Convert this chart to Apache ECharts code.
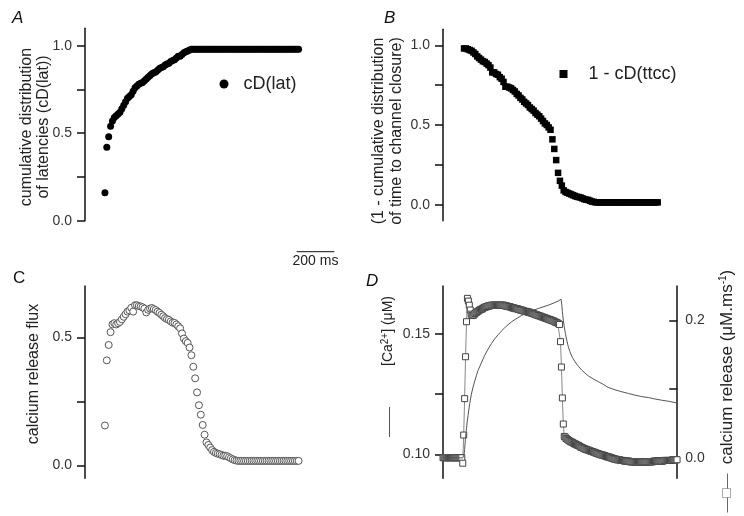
<!DOCTYPE html>
<html><head><meta charset="utf-8">
<script src="https://cdn.jsdelivr.net/npm/echarts@6/dist/echarts.min.js"></script>
<style>html,body{margin:0;padding:0;background:#fff}#c{width:744px;height:516px}</style>
</head><body><div id="c"></div>
<script>
// ---------- DATA ----------
// Panels A-C: one sample every 10 ms, starting at t = 0 ms
const stepABC = 10;
// A: cumulative distribution of latencies
const cdLat = [
 0.16,0.42,0.48,0.54,0.57,0.59,0.60,0.61,0.62,0.64,
 0.66,0.68,0.70,0.71,0.72,0.74,0.76,0.77,0.78,0.785,
 0.79,0.80,0.81,0.82,0.83,0.84,0.845,0.85,0.86,0.87,
 0.875,0.88,0.89,0.895,0.90,0.91,0.915,0.92,0.93,0.94,
 0.94,0.95,0.96,0.965,0.97,0.975,0.98,0.98,0.98,0.98,
 0.98,0.98,0.98,0.98,0.98,0.98,0.98,0.98,0.98,0.98,
 0.98,0.98,0.98,0.98,0.98,0.98,0.98,0.98,0.98,0.98,
 0.98,0.98,0.98,0.98,0.98,0.98,0.98,0.98,0.98,0.98,
 0.98,0.98,0.98,0.98,0.98,0.98,0.98,0.98,0.98,0.98,
 0.98,0.98,0.98,0.98,0.98,0.98,0.98,0.98,0.98,0.98,
 0.98,0.98,0.98,0.98
];
// B: 1 - cumulative distribution of time to channel closure
const oneMinusTtcc = [
 0.98,0.98,0.975,0.97,0.965,0.955,0.945,0.93,0.92,0.91,
 0.90,0.895,0.885,0.875,0.86,0.83,0.83,0.82,0.815,0.80,
 0.79,0.77,0.74,0.74,0.735,0.73,0.72,0.71,0.695,0.685,
 0.67,0.66,0.645,0.635,0.625,0.61,0.60,0.59,0.575,0.565,
 0.555,0.54,0.525,0.51,0.50,0.485,0.47,0.41,0.35,0.28,
 0.20,0.15,0.12,0.09,0.08,0.075,0.07,0.065,0.06,0.055,
 0.05,0.048,0.045,0.04,0.035,0.032,0.03,0.025,0.02,0.018,
 0.015,0.015,0.015,0.015,0.015,0.015,0.015,0.015,0.015,0.015,
 0.015,0.015,0.015,0.015,0.015,0.015,0.015,0.015,0.015,0.015,
 0.015,0.015,0.015,0.015,0.015,0.015,0.015,0.015,0.015,0.015,
 0.015,0.015,0.015,0.015
];
// C: calcium release flux
const releaseFlux = [
 0.156,0.41,0.47,0.52,0.55,0.555,0.55,0.555,0.56,0.57,
 0.58,0.59,0.60,0.605,0.615,0.60,0.625,0.625,0.622,0.62,
 0.617,0.612,0.597,0.607,0.612,0.614,0.61,0.606,0.60,0.595,
 0.588,0.582,0.575,0.571,0.568,0.562,0.557,0.556,0.55,0.543,
 0.535,0.515,0.495,0.485,0.478,0.46,0.43,0.385,0.34,0.285,
 0.235,0.198,0.158,0.12,0.09,0.08,0.07,0.06,0.053,0.049,
 0.046,0.044,0.041,0.038,0.038,0.036,0.032,0.028,0.024,0.021,
 0.019,0.018,0.018,0.018,0.018,0.018,0.018,0.018,0.018,0.018,
 0.018,0.018,0.018,0.018,0.018,0.018,0.018,0.018,0.018,0.018,
 0.018,0.018,0.018,0.018,0.018,0.018,0.018,0.018,0.018,0.018,
 0.018,0.018,0.018,0.018
];
// D: calcium release (uM/ms), one sample every 5 ms starting at t = -110 ms
const stepD = 5, startD = -110;
const caRelease = [
 0,0,0,0,0,0,0,0,0,0,
 0,0,0,0,0,0,0,0,0,0,
 0,-0.008,0.033,0.086,0.147,0.198,0.232,0.228,0.222,0.215,
 0.209,0.207,0.207,0.208,0.21,0.211,0.212,0.213,0.214,0.215,
 0.216,0.216,0.217,0.218,0.219,0.219,0.22,0.22,0.221,0.221,
 0.221,0.222,0.222,0.222,0.222,0.222,0.222,0.222,0.222,0.222,
 0.222,0.222,0.222,0.222,0.222,0.222,0.221,0.221,0.221,0.22,
 0.22,0.22,0.219,0.219,0.218,0.218,0.218,0.217,0.217,0.217,
 0.216,0.216,0.215,0.215,0.215,0.214,0.214,0.213,0.213,0.213,
 0.212,0.212,0.212,0.211,0.211,0.21,0.21,0.209,0.209,0.208,
 0.208,0.207,0.207,0.206,0.206,0.205,0.205,0.204,0.204,0.203,
 0.203,0.202,0.202,0.201,0.201,0.2,0.2,0.199,0.199,0.198,
 0.197,0.197,0.196,0.195,0.194,0.169,0.132,0.087,0.049,0.031,
 0.03,0.028,0.027,0.026,0.025,0.024,0.023,0.023,0.022,0.021,
 0.02,0.02,0.019,0.018,0.018,0.017,0.016,0.015,0.015,0.014,
 0.013,0.013,0.012,0.012,0.011,0.011,0.01,0.01,0.009,0.009,
 0.008,0.008,0.007,0.007,0.006,0.006,0.005,0.005,0.004,0.004,
 0.004,0.003,0.003,0.002,0.002,0.001,0.001,0.001,0,0,
 -0.001,-0.001,-0.002,-0.002,-0.002,-0.003,-0.003,-0.003,-0.003,-0.004,
 -0.004,-0.004,-0.004,-0.005,-0.005,-0.005,-0.005,-0.005,-0.005,-0.006,
 -0.006,-0.006,-0.006,-0.006,-0.006,-0.006,-0.006,-0.006,-0.006,-0.006,
 -0.006,-0.006,-0.006,-0.006,-0.006,-0.006,-0.006,-0.006,-0.006,-0.006,
 -0.006,-0.006,-0.006,-0.006,-0.005,-0.005,-0.005,-0.005,-0.005,-0.005,
 -0.005,-0.005,-0.005,-0.005,-0.005,-0.004,-0.004,-0.004,-0.004,-0.004,
 -0.004,-0.004,-0.004,-0.004,-0.003,-0.003,-0.003,-0.003,-0.003,-0.003
];
// D: [Ca2+] (uM) trace, read at these times (ms)
const caTimes = [-110,-5,0,2,5,9,14,18,23,32,41,50,59,68,76,94,112,130,147,165,183,200,218,236,253,271,289,307,325,342,360,378,395,422,449,476,502,512,518,522,525,530,535,541,548,556,565,578,592,610,628,645,663,690,716,742,769,805,841,876,911,946,982,1017,1053,1093,1136];
const caConc = [0.0985,0.0985,0.0988,0.0998,0.102,0.106,0.110,0.113,0.116,0.121,0.125,0.128,0.1305,0.1328,0.1348,0.138,0.1412,0.1438,0.146,0.148,0.1497,0.1512,0.1526,0.1539,0.155,0.156,0.1568,0.1577,0.1584,0.159,0.1596,0.1601,0.1606,0.1613,0.162,0.1628,0.1637,0.1641,0.1645,0.162,0.1593,0.1558,0.1531,0.1503,0.1475,0.1449,0.1427,0.1403,0.1385,0.1366,0.135,0.1338,0.1326,0.1313,0.1302,0.1291,0.1278,0.1268,0.126,0.1253,0.1246,0.124,0.1236,0.123,0.1225,0.122,0.1213];

// tick values / labels
const ticksUnit = [0, 0.25, 0.5, 0.75, 1.0];
const labelsUnit = [0, 0.5, 1.0];
const ticksFlux = [0, 0.25, 0.5];
const labelsFlux = [0, 0.5];
const ticksCa = [0.10, 0.125, 0.15];
const labelsCa = [0.10, 0.15];
const ticksRel = [0, 0.1, 0.2];
const labelsRel = [0, 0.2];
const scaleBarMs = 200, scaleBarStart = 1020;

// ---------- BUILD ----------
function sampleTimes(start, step, n){ const a=[]; for(let i=0;i<n;i++) a.push(start+i*step); return a; }
function pairs(ts, vs){ return vs.map((v,i)=>[ts[i], v]); }
const tA = sampleTimes(0, stepABC, cdLat.length);
const tB = sampleTimes(0, stepABC, oneMinusTtcc.length);
const tC = sampleTimes(0, stepABC, releaseFlux.length);
const tD = sampleTimes(startD, stepD, caRelease.length);

const FONT = '"Liberation Sans", Arial, sans-serif';
const PX_PER_MS = 0.188;

const xRanges = [[-106,1130],[-112,1130],[-106,1130],[-110,1136]];
const grids = [
  {left:85, top:28.2, height:192.5},
  {left:443, top:29.3, height:191.4},
  {left:85, top:286, height:192.3},
  {left:443, top:286, height:192.3}
].map((g,i)=>Object.assign(g, {width:(xRanges[i][1]-xRanges[i][0])*PX_PER_MS, containLabel:false}));

function yAx(gi, min, max, ticks, labels, digits, opts){
  opts = opts || {};
  return {
    type:'value', gridIndex:gi, min:min, max:max, position: opts.pos || 'left',
    splitLine:{show:false},
    axisLine:{show:true, onZero:false, lineStyle:{color:'#111', width:1.5}},
    axisTick:{show:true, inside:!!opts.inside, length:8, customValues:ticks, lineStyle:{color:'#111', width:1.5}},
    axisLabel:{show:true, customValues:labels, margin: opts.margin || 13, fontSize:14, color:'#333', fontFamily:FONT,
      formatter:(v)=>Number(v).toFixed(digits)}
  };
}

const chart = echarts.init(document.getElementById('c'), null, {renderer:'canvas'});
chart.setOption({
  animation:false,
  backgroundColor:'#fff',
  grid: grids,
  xAxis: xRanges.map((r,i)=>({type:'value', gridIndex:i, min:r[0], max:r[1], show:false})),
  yAxis: [
    yAx(0, 0, 1.1, ticksUnit, labelsUnit, 1),
    yAx(1, -0.1, 1.1, ticksUnit, labelsUnit, 1),
    yAx(2, -0.05, 0.7, ticksFlux, labelsFlux, 1),
    yAx(3, 0.09, 0.17, ticksCa, labelsCa, 2),
    yAx(3, -0.03, 0.25, ticksRel, labelsRel, 1, {pos:'right', inside:true, margin:8})
  ],
  legend: [
    {data:['cD(lat)'], left:219.5, top:75, padding:0, icon:'circle', itemWidth:9, itemHeight:9, selectedMode:false,
     textStyle:{fontSize:18, color:'#222', fontFamily:FONT, padding:[0,0,0,10]}},
    {data:['1 - cD(ttcc)'], left:559.5, top:65, padding:0, icon:'rect', itemWidth:8, itemHeight:8, selectedMode:false,
     textStyle:{fontSize:18, color:'#222', fontFamily:FONT, padding:[0,0,0,16]}}
  ],
  series: [
    {type:'scatter', name:'cD(lat)', xAxisIndex:0, yAxisIndex:0, symbol:'circle', symbolSize:7,
     itemStyle:{color:'#000', opacity:1}, data:pairs(tA, cdLat)},
    {type:'scatter', name:'1 - cD(ttcc)', xAxisIndex:1, yAxisIndex:1, symbol:'rect', symbolSize:6.5,
     itemStyle:{color:'#000', opacity:1}, data:pairs(tB, oneMinusTtcc)},
    {type:'scatter', name:'calcium release flux', xAxisIndex:2, yAxisIndex:2, symbol:'circle', symbolSize:7,
     itemStyle:{color:'#fff', borderColor:'#555', borderWidth:1, opacity:1}, data:pairs(tC, releaseFlux)},
    {type:'line', name:'calcium release', xAxisIndex:3, yAxisIndex:4, symbol:'rect', symbolSize:6, showSymbol:true, showAllSymbol:true,
     itemStyle:{color:'#fff', borderColor:'#444', borderWidth:1}, lineStyle:{color:'#888', width:1}, z:2,
     data:pairs(tD, caRelease)},
    {type:'line', name:'[Ca2+]', xAxisIndex:3, yAxisIndex:3, showSymbol:false, symbol:'none',
     lineStyle:{color:'#555', width:1}, z:3, data:pairs(caTimes, caConc)}
  ]
});

// scale bar from panel A's time axis
const sx0 = chart.convertToPixel({xAxisIndex:0}, scaleBarStart);
const sx1 = chart.convertToPixel({xAxisIndex:0}, scaleBarStart + scaleBarMs);

function letter(t, x, y, italic){
  return {type:'text', x:x, y:y, style:{text:t, fontSize:17, fontStyle: italic?'italic':'normal', fontFamily:FONT, fill:'#111', textVerticalAlign:'top'}};
}
function vname(text, cx, cy, lh, size, color, rich){
  return {type:'text', x:cx, y:cy, rotation:Math.PI/2,
    style:{text:text, fontSize:size||16, fontFamily:FONT, fill:color||'#222', textAlign:'center', textVerticalAlign:'middle', lineHeight:lh||17, rich:rich}};
}
const richSup = {
  s:{fontSize:10, fontFamily:FONT, fill:'#222', verticalAlign:'top', lineHeight:10}
};
chart.setOption({
  graphic: [
    letter('A', 12, 10, true),
    letter('B', 384, 10, true),
    letter('C', 13, 270, false),
    letter('D', 366, 273, true),
    vname('cumulative distribution\nof latencies (cD(lat))', 35, 127, 17),
    vname('(1 - cumulative distribution\nof time to channel closure)', 388, 131, 18),
    vname('calcium release flux', 34, 374, 17),
    vname('——', 388.5, 422, 16, 15, '#555'),
    vname('[Ca{s|2+}] (μM)', 388.5, 331, 16, 14, '#222', richSup),
    vname('—□—', 727, 493, 16, 15, '#666'),
    vname('calcium release (μM.ms{s|-1})', 727, 367, 17, 17, '#222', richSup),
    {type:'line', shape:{x1:sx0, y1:251.7, x2:sx1, y2:251.7}, style:{stroke:'#111', lineWidth:1}},
    {type:'text', x:(sx0+sx1)/2, y:254, style:{text:'200 ms', fontSize:14, fontFamily:FONT, fill:'#222', textAlign:'center', textVerticalAlign:'top'}}
  ]
});
</script></body></html>
